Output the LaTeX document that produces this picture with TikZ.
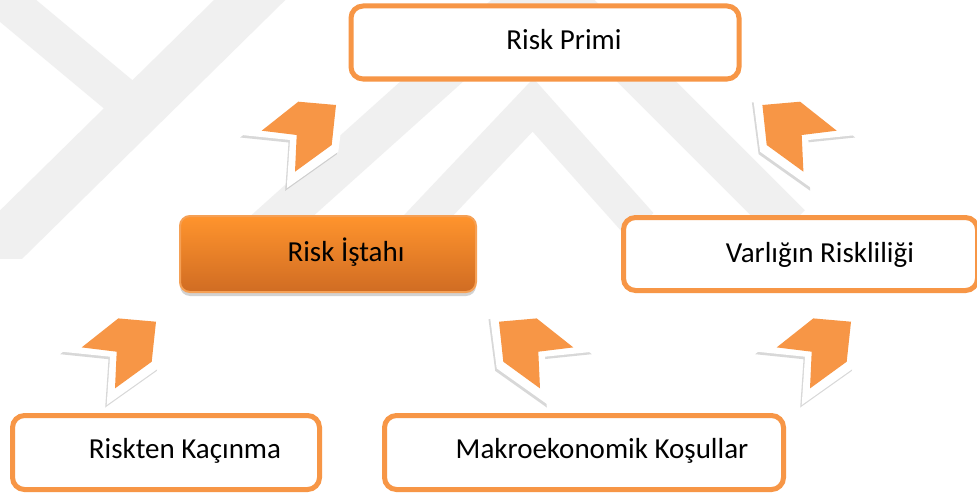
\documentclass[tikz,border=0pt]{standalone}
\usepackage{fontspec}
\setmainfont{Carlito}
\usetikzlibrary{shadows}
\definecolor{org}{RGB}{247,150,70}
\definecolor{wm}{RGB}{240,240,240}
\definecolor{otop}{RGB}{255,148,45}
\definecolor{obot}{RGB}{208,108,35}
\definecolor{oedge}{RGB}{245,160,85}
\begin{document}
\begin{tikzpicture}[x=1pt,y=-1pt,
  wbox/.style={draw=org,line width=5pt,rounded corners=12pt,fill=white,inner sep=0pt},
  obox/.style={draw=oedge,line width=2pt,rounded corners=10pt,top color=otop,bottom color=obot,inner sep=0pt,
    drop shadow={opacity=0.35,shadow xshift=0pt,shadow yshift=-4pt}},
  lbl/.style={anchor=base,inner sep=0pt,font=\fontsize{29}{34}\selectfont,text=black},
  chev/.pic={
    \fill[white,drop shadow={opacity=0.3,shadow xshift=-1.5pt,shadow yshift=-2.5pt}]
      (-55,0) -- (-3.4,-40) -- (48.3,-35) -- (41.6,16.7) -- (-10,53.3) -- (-6.7,5) -- cycle;
    \fill[org] (-35,-4.3) -- (1.6,-33.3) -- (39.3,-30) -- (35,10) -- (-1.7,36.7) -- (0,0) -- cycle;
  }]
\useasboundingbox (0,0) rectangle (977,495);
\fill[white] (0,0) rectangle (977,495);
% watermark
\begin{scope}
  \clip (0,0) rectangle (977,258);
  \draw[wm,line width=40pt] (-25,-25) -- (125,100);
  \draw[wm,line width=50pt] (270,-20) -- (-30,275);
  \draw[wm,line width=42pt,line join=miter] (205,285) -- (545,-20) -- (790,225);
  \draw[wm,line width=36pt,line join=miter] (410,235) -- (533,105) -- (640,225);
\end{scope}
% boxes
\node[wbox,minimum width=388pt,minimum height=73pt] (rp) at (545,42.5) {};
\node[obox,minimum width=296pt,minimum height=76pt] (ri) at (328,254) {};
\node[wbox,minimum width=354pt,minimum height=73pt] (vr) at (800.5,254) {};
\node[wbox,minimum width=307pt,minimum height=74pt] (rk) at (166,452.5) {};
\node[wbox,minimum width=399pt,minimum height=74pt] (mk) at (584,452.5) {};
% labels
\node[lbl] (rpT) at (564,49.5) {Risk Primi};
\node[lbl] (riT) at (346,261) {Risk İştahı};
\node[lbl] (vrT) at (820,262) {Varlığın Riskliliği};
\node[lbl] (rkT) at (185,458.5) {Riskten Kaçınma};
\node[lbl] (mkT) at (602,458.5) {Makroekonomik Koşullar};
% arrows
\pic at (296.7,135) {chev};
\pic[xscale=-1] at (801.7,135) {chev};
\pic at (116.7,351.7) {chev};
\pic[xscale=-1] at (538.3,351.7) {chev};
\pic at (811.7,351.7) {chev};
\end{tikzpicture}
\end{document}
